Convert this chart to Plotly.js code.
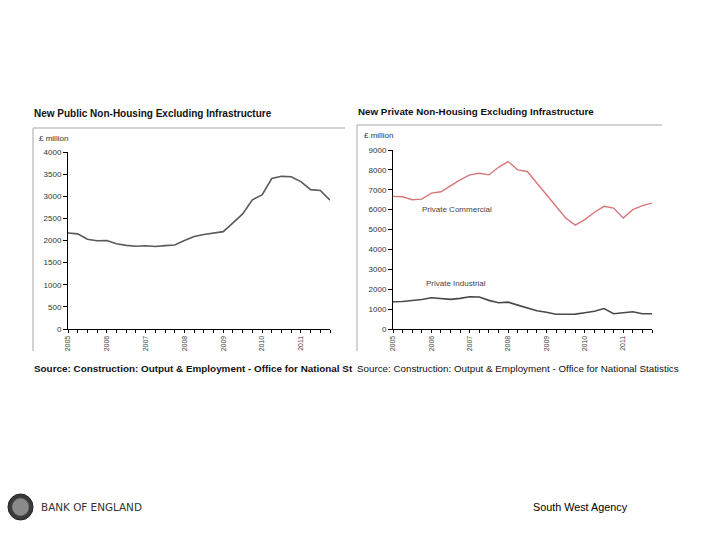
<!DOCTYPE html>
<html><head><meta charset="utf-8">
<script src="https://cdn.plot.ly/plotly-3.0.1.min.js"></script>
<style>html,body{margin:0;padding:0;background:#fff}#c{width:720px;height:540px}</style>
</head><body><div id="c"></div>
<script>
// Quarterly data, 2005 Q1 to 2011 Q4
var quarters = ["2005Q1","2005Q2","2005Q3","2005Q4","2006Q1","2006Q2","2006Q3","2006Q4",
  "2007Q1","2007Q2","2007Q3","2007Q4","2008Q1","2008Q2","2008Q3","2008Q4",
  "2009Q1","2009Q2","2009Q3","2009Q4","2010Q1","2010Q2","2010Q3","2010Q4",
  "2011Q1","2011Q2","2011Q3","2011Q4"];
var yearLabels = ["2005","2006","2007","2008","2009","2010","2011"];
var publicNonHousing = [2170,2150,2030,1995,2000,1925,1890,1870,1880,1865,1885,1900,
  2000,2090,2135,2160,2200,2400,2600,2920,3030,3400,3450,3440,3330,3150,3130,2910];
var privateCommercial = [6670,6650,6500,6530,6830,6900,7200,7500,7750,7830,7750,8130,
  8420,8000,7920,7330,6750,6200,5580,5220,5500,5870,6170,6080,5580,6000,6200,6330];
var privateIndustrial = [1370,1380,1430,1480,1570,1520,1490,1540,1620,1610,1440,1320,
  1350,1200,1060,920,840,740,740,750,820,890,1030,770,820,870,770,770];

var idx = quarters.map(function(q,i){return i;});
var tickText = quarters.map(function(q){return q.slice(4)==="Q1" ? q.slice(0,4) : "";});

function px(x){return x/720;}
function py(y){return 1 - y/540;}

var FONT = "Liberation Sans, Arial, sans-serif";

function xax(dom, anchor){
  return {domain: dom, anchor: anchor, range: [0, 27], tickmode: "array", tickvals: idx, ticktext: tickText,
    tickangle: -90, ticks: "outside", ticklen: 3, tickcolor: "#000", tickwidth: 1,
    showline: true, linecolor: "#000", linewidth: 1, showgrid: false, zeroline: false,
    tickfont: {family: FONT, size: 7, color: "#444"}, fixedrange: true};
}
function yax(dom, anchor, max, dt){
  return {domain: dom, anchor: anchor, range: [0, max], dtick: dt, tick0: 0, ticks: "outside", ticklen: 4,
    tickcolor: "#000", showline: true, linecolor: "#000", linewidth: 1, showgrid: false, zeroline: false,
    tickfont: {family: FONT, size: 8, color: "#333"}, fixedrange: true};
}

var traces = [
  {x: idx, y: publicNonHousing, type: "scatter", mode: "lines", xaxis: "x", yaxis: "y",
   line: {color: "#5a5a5a", width: 1.6}, hoverinfo: "skip"},
  {x: idx, y: privateCommercial, type: "scatter", mode: "lines", xaxis: "x2", yaxis: "y2",
   line: {color: "#d8777a", width: 1.4}, hoverinfo: "skip"},
  {x: idx, y: privateIndustrial, type: "scatter", mode: "lines", xaxis: "x2", yaxis: "y2",
   line: {color: "#4a4a4a", width: 1.6}, hoverinfo: "skip"}
];

var layout = {
  width: 720, height: 540, margin: {l:0, r:0, t:0, b:0}, showlegend: false,
  paper_bgcolor: "#fff", plot_bgcolor: "rgba(0,0,0,0)",
  xaxis: xax([px(68), px(330)], "y"),
  yaxis: yax([py(329), py(152)], "x", 4000, 500),
  xaxis2: xax([px(393), px(652)], "y2"),
  yaxis2: yax([py(329), py(150)], "x2", 9000, 1000),
  shapes: [
    {type: "line", xref: "paper", yref: "paper", x0: px(33), x1: px(345), y0: py(128), y1: py(128), line: {color: "#c4c4c4", width: 1.5}},
    {type: "line", xref: "paper", yref: "paper", x0: px(33), x1: px(33), y0: py(128), y1: py(351), line: {color: "#c4c4c4", width: 1.5}},
    {type: "line", xref: "paper", yref: "paper", x0: px(357), x1: px(662), y0: py(125), y1: py(125), line: {color: "#c4c4c4", width: 1.5}},
    {type: "line", xref: "paper", yref: "paper", x0: px(357), x1: px(357), y0: py(125), y1: py(351), line: {color: "#c4c4c4", width: 1.5}},
    {type: "circle", xref: "paper", yref: "paper", x0: px(8), x1: px(33), y0: py(494), y1: py(520), fillcolor: "#3a3a3a", line: {color: "#222", width: 1}},
    {type: "circle", xref: "paper", yref: "paper", x0: px(12), x1: px(29), y0: py(498), y1: py(516), fillcolor: "#8a8a8a", line: {color: "#555", width: 0.5}}
  ],
  annotations: [
    {xref: "paper", yref: "paper", x: px(32), y: py(113), xanchor: "left", yanchor: "middle", showarrow: false,
     text: "<b>New Public Non-Housing Excluding Infrastructure</b>", font: {family: FONT, size: 10, color: "#111"}},
    {xref: "paper", yref: "paper", x: px(356), y: py(112), xanchor: "left", yanchor: "middle", showarrow: false,
     text: "<b>New Private Non-Housing Excluding Infrastructure</b>", font: {family: FONT, size: 9.8, color: "#111"}},
    {xref: "paper", yref: "paper", x: px(37), y: py(138), xanchor: "left", yanchor: "middle", showarrow: false,
     text: "£ million", font: {family: FONT, size: 8, color: "#333"}},
    {xref: "paper", yref: "paper", x: px(362), y: py(135), xanchor: "left", yanchor: "middle", showarrow: false,
     text: "£ million", font: {family: FONT, size: 8, color: "#333"}},
    {xref: "paper", yref: "paper", x: px(420), y: py(210), xanchor: "left", yanchor: "middle", showarrow: false,
     text: "Private Commercial", font: {family: FONT, size: 8, color: "#444"}},
    {xref: "paper", yref: "paper", x: px(424), y: py(283), xanchor: "left", yanchor: "middle", showarrow: false,
     text: "Private Industrial", font: {family: FONT, size: 8, color: "#444"}},
    {xref: "paper", yref: "paper", x: px(32), y: py(368), xanchor: "left", yanchor: "middle", showarrow: false,
     text: "<b>Source: Construction: Output &amp; Employment - Office for National St</b>", font: {family: FONT, size: 9.9, color: "#111"}},
    {xref: "paper", yref: "paper", x: px(355), y: py(368), xanchor: "left", yanchor: "middle", showarrow: false,
     text: "Source: Construction: Output &amp; Employment - Office for National Statistics", font: {family: FONT, size: 9.8, color: "#111"}},
    {xref: "paper", yref: "paper", x: px(39), y: py(507), xanchor: "left", yanchor: "middle", showarrow: false,
     text: "BANK OF ENGLAND", font: {family: "DejaVu Sans, sans-serif", size: 10.4, color: "#333"}},
    {xref: "paper", yref: "paper", x: px(531), y: py(507), xanchor: "left", yanchor: "middle", showarrow: false,
     text: "South West Agency", font: {family: FONT, size: 10.8, color: "#000"}}
  ]
};

Plotly.newPlot("c", traces, layout, {displayModeBar: false, staticPlot: true});
</script></body></html>
